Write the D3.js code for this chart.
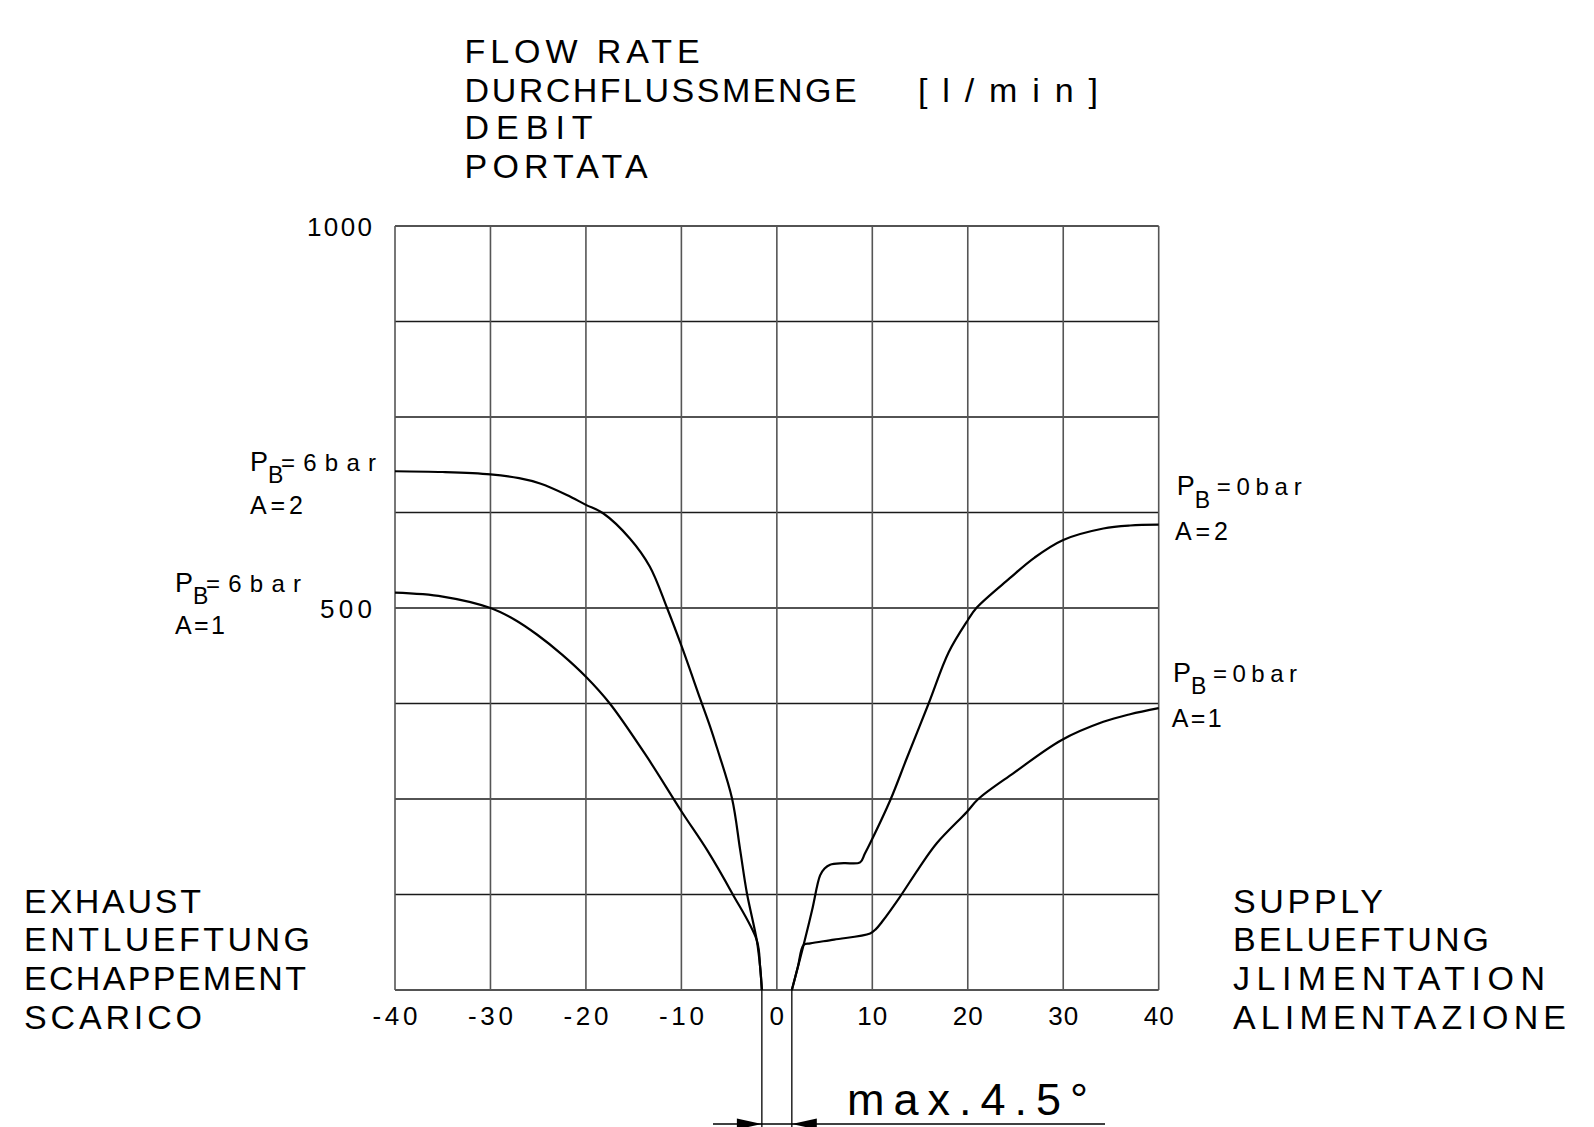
<!DOCTYPE html>
<html><head><meta charset="utf-8">
<script src="https://cdn.jsdelivr.net/npm/d3@7"></script>
<style>
html,body{margin:0;padding:0;background:#fff;}
svg{display:block;}
text{font-family:"Liberation Sans",Arial,sans-serif;fill:#000;}
</style></head><body>
<svg id="c" width="1594" height="1127"></svg>
<script>
// ---------- data ----------
const xTicks = [-40,-30,-20,-10,0,10,20,30,40];
const xTickLabels = ["-40","-30","-20","-10","0","10","20","30","40"];
const yGrid = [0,125,250,375,500,625,750,875,1000];
const yTickValues = [1000,500];
const yTickLabels = ["1000","500"];

// PB = 6bar, A = 2 (exhaust side)
const exhaustA2Deg  = [-40,-35,-30,-27,-24.8,-22,-20,-18.2,-15.4,-13.3,-11.5,-9.95,-8.0,-7.0,-6.3,-4.7,-3.84,-3.14,-2.1,-1.75,-1.57];
const exhaustA2Flow = [679,678,675,670,663,648,635,624,591,554,500,449,380,345,318,251,183,127,65,30,0];
// PB = 6bar, A = 1 (exhaust side)
const exhaustA1Deg  = [-40,-35,-30,-27.5,-25.1,-22.5,-20,-17.5,-13.6,-9.95,-7.3,-4.7,-2.1,-1.75,-1.57];
const exhaustA1Flow = [520,515,500,485,465,439,410,375,305,233,183,127,65,30,0];
// PB = 0bar, A = 2 (supply side)
const supplyA2Deg  = [1.57,2.2,2.8,3.7,4.53,5.0,5.58,7.0,8.72,9.2,9.77,11.9,13.6,15.9,18.0,20.0,20.9,24.4,27,30.0,34.2,37,40];
const supplyA2Flow = [0,30,59,105,150,159,164,166,167,178,192,249,303,375,442,484,500,539,566,589,604,608,609];
// PB = 0bar, A = 1 (supply side)
const supplyA1Deg  = [1.57,2.2,2.8,3.5,6.0,9.77,10.4,11.0,12.9,14.8,16.75,19.9,21.1,24.8,29.8,34.2,37,40];
const supplyA1Flow = [0,30,59,61,66,74,80,89,122,158,192,233,250,284,327,351,361,369];

const deadband = [-1.57, 1.57];
const seriesPressure = ["6bar","6bar","0bar","0bar"];
const seriesArea = ["2","1","2","1"];

const titleLines = ["FLOW RATE","DURCHFLUSSMENGE","DEBIT","PORTATA"];
const titleUnit = "[l/min]";
const exhaustLabels = ["EXHAUST","ENTLUEFTUNG","ECHAPPEMENT","SCARICO"];
const supplyLabels = ["SUPPLY","BELUEFTUNG","JLIMENTATION","ALIMENTAZIONE"];
const dimensionText = "max.4.5°";

// ---------- drawing ----------
const svg = d3.select("#c");
const x = d3.scaleLinear().domain([-40,40]).range([395,1158.7]);
const y = d3.scaleLinear().domain([0,1000]).range([990,226]);

function fit(t, width){
  if (!width) return t;
  const nat = t.node().getComputedTextLength();
  t.attr("textLength",width).attr("lengthAdjust", nat > width ? "spacingAndGlyphs" : "spacing");
  return t;
}
function txt(str, px, py, size, width, anchor){
  const t = svg.append("text").attr("x",px).attr("y",py)
    .attr("font-size",size).text(str);
  if (anchor) t.attr("text-anchor",anchor);
  return fit(t, width);
}
function multiline(lines, px, bases, size, widths){
  const t = svg.append("text").attr("font-size",size);
  lines.forEach((s,i)=>{
    const ts = t.append("tspan").attr("x",px).attr("y",bases[i]).text(s);
    const nat = ts.node().getComputedTextLength();
    ts.attr("textLength",widths[i]).attr("lengthAdjust", nat > widths[i] ? "spacingAndGlyphs" : "spacing");
  });
  return t;
}

// grid
const g = svg.append("g");
g.selectAll("line.h").data(yGrid).join("line")
  .attr("x1",x(-40)).attr("x2",x(40))
  .attr("y1",d=>y(d)).attr("y2",d=>y(d))
  .attr("stroke","#1a1a1a").attr("stroke-width",1.3);
g.selectAll("line.v").data(xTicks).join("line")
  .attr("x1",d=>x(d)).attr("x2",d=>x(d))
  .attr("y1",y(0)).attr("y2",y(1000))
  .attr("stroke","#555").attr("stroke-width",1.6);

// tick labels
xTickLabels.forEach((s,i)=>{
  const w = s.startsWith("-") ? 45 : (s.length===2 ? 30 : null);
  txt(s, x(xTicks[i]), 1025, 26, w, "middle");
});
const yLabelW = [65,52];
yTickLabels.forEach((s,i)=>{
  txt(s, 372, y(yTickValues[i])+9.8, 26, yLabelW[i], "end");
});

// curves
const line = d3.line().x(d=>x(d[0])).y(d=>y(d[1])).curve(d3.curveCatmullRom.alpha(0.5));
const series = [
  d3.zip(exhaustA2Deg, exhaustA2Flow),
  d3.zip(exhaustA1Deg, exhaustA1Flow),
  d3.zip(supplyA2Deg, supplyA2Flow),
  d3.zip(supplyA1Deg, supplyA1Flow)
];
svg.append("g").selectAll("path").data(series).join("path")
  .attr("d",line).attr("fill","none").attr("stroke","#000")
  .attr("stroke-width",2.2).attr("stroke-linejoin","round");

// series labels
const labelPos = [
  {px:250, py:470.7, eqx:281, eqw:95, ax:250, ay:514, aw:53},
  {px:175, py:591.7, eqx:206, eqw:95, ax:175, ay:634, aw:50},
  {px:1176.7, py:495, eqx:1216.7, eqw:85, ax:1175, ay:540, aw:53},
  {px:1173, py:681.7, eqx:1213, eqw:84, ax:1171.7, ay:726.7, aw:50}
];
labelPos.forEach((p,i)=>{
  const t = svg.append("text").attr("x",p.px).attr("y",p.py);
  t.append("tspan").attr("font-size",27).text("P");
  t.append("tspan").attr("font-size",23).attr("dy",12.5).text("B");
  const eq = t.append("tspan").attr("x",p.eqx).attr("dy",-12.5).attr("font-size",24)
    .text("="+seriesPressure[i]);
  eq.attr("textLength",p.eqw).attr("lengthAdjust","spacing");
  txt("A="+seriesArea[i], p.ax, p.ay, 25, p.aw);
});

// titles (one text block)
const titleBase = [63,101.7,139.3,178];
const titleW = [235,392,128,183];
const tt = multiline(titleLines, 464.6, titleBase, 34, titleW);
const unit = tt.append("tspan").attr("x",918).attr("y",titleBase[1]).text(titleUnit);
unit.attr("textLength",180).attr("lengthAdjust","spacing");

// side labels
const sideBase = [912.5,951,990,1029];
multiline(exhaustLabels, 24, sideBase, 34, [177,286,282,178]);
multiline(supplyLabels, 1233, sideBase, 34, [150,256,312,333]);

// dimension
const dg = svg.append("g").attr("stroke","#000").attr("stroke-width",1.3);
deadband.forEach(d=>{
  dg.append("line").attr("x1",x(d)).attr("x2",x(d)).attr("y1",y(0)).attr("y2",1127);
});
dg.append("line").attr("x1",713).attr("x2",1105).attr("y1",1124).attr("y2",1124);
const xl = x(deadband[0]), xr = x(deadband[1]);
svg.append("polygon").attr("points",`${xl},1124 ${xl-25},1118.5 ${xl-25},1129.5`).attr("fill","#000");
svg.append("polygon").attr("points",`${xr},1124 ${xr+25},1118.5 ${xr+25},1129.5`).attr("fill","#000");
txt(dimensionText, 847, 1115, 45, 241);
</script>
</body></html>
